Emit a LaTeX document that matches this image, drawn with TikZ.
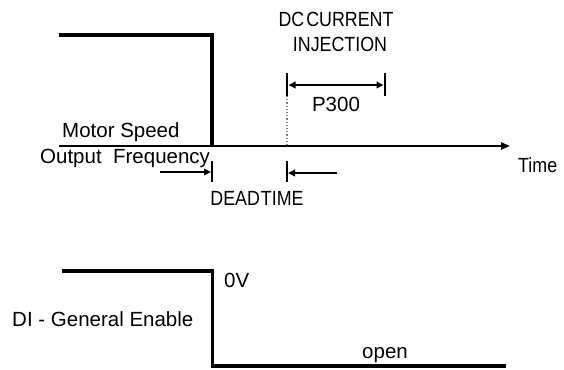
\documentclass[tikz,border=0pt]{standalone}
\usepackage{fontspec}
\setmainfont{Liberation Sans}
\newfontfamily\capsfont[FakeStretch=0.87]{Liberation Sans}
\usetikzlibrary{arrows.meta,positioning}
\tikzset{
  lbl/.style={font=\fontsize{20.5}{23}\selectfont, inner sep=0pt},
  caplbl/.style={font=\fontsize{20.5}{23}\selectfont\capsfont, inner sep=0pt},
  sigline/.style={line width=3.3pt},
  axisline/.style={line width=2.2pt, -{Triangle[length=9pt,width=7pt]}},
  dimarr/.style={line width=2.6pt, -{Triangle[length=7pt,width=6.5pt]}},
  dimboth/.style={line width=2.6pt, {Triangle[length=7pt,width=6.5pt]}-{Triangle[length=7pt,width=6.5pt]}},
  tickline/.style={line width=1.5pt},
  guide/.style={line width=1.2pt, gray, dotted}
}
\begin{document}
\begin{tikzpicture}[x=1pt,y=-1pt]
    \useasboundingbox (0,0) rectangle (564,369);

    % motor speed / output frequency
    \coordinate (spdA) at (59,35);
    \coordinate (spdB) at (212,35);
    \coordinate (spdC) at (212,146);
    \coordinate (axA) at (59,146);
    \coordinate (axB) at (510,146);
    \draw[sigline] (spdA) -- (spdB) -- (spdC);
    \draw[axisline] (axA) -- (axB);

    \node[lbl,anchor=base west] (speed) at (62,137) {Motor Speed};
    \node[lbl,anchor=base west] (freq) at (40,163) {Output\ \ Frequency};
    \node[caplbl,anchor=base west] (time) at (518,172) {Time};

    % dc current injection
    \node[caplbl,anchor=base] (dc) at (336,27) {DC\kern2pt CURRENT};
    \node[caplbl,anchor=base] (inj) at (340,52) {INJECTION};
    \coordinate (injA) at (287,73);
    \coordinate (injA2) at (287,96);
    \coordinate (injB) at (385,73);
    \coordinate (injB2) at (385,96);
    \draw[tickline] (injA) -- (injA2);
    \draw[tickline] (injB) -- (injB2);
    \draw[dimboth] (288.5,85) -- (383.5,85);
    \node[lbl,anchor=base] (p300) at (336,111) {P300};
    \draw[guide] (injA2) -- (287,145);

    % dead time
    \coordinate (dtA) at (212,161);
    \coordinate (dtA2) at (212,182);
    \coordinate (dtB) at (287,161);
    \coordinate (dtB2) at (287,182);
    \draw[tickline] (dtA) -- (dtA2);
    \draw[tickline] (dtB) -- (dtB2);
    \coordinate (dtL) at (160,172);
    \coordinate (dtR) at (337,173);
    \draw[dimarr] (dtL) -- (211,172);
    \draw[dimarr] (dtR) -- (288,173);
    \node[caplbl,anchor=base] (dead) at (257,205) {DEAD\kern1pt TIME};

    % general enable
    \coordinate (enA) at (62,271);
    \coordinate (enB) at (212.5,271);
    \coordinate (enC) at (212.5,366);
    \coordinate (enD) at (506,366);
    \draw[sigline] (enA) -- (enB) -- (enC) -- (enD);
    \node[lbl,anchor=base west] (zero) at (224,287) {0V};
    \node[lbl,anchor=base west] (enable) at (12,326) {DI - General Enable};
    \node[lbl,anchor=base] (open) at (385,358) {open};
\end{tikzpicture}
\end{document}
